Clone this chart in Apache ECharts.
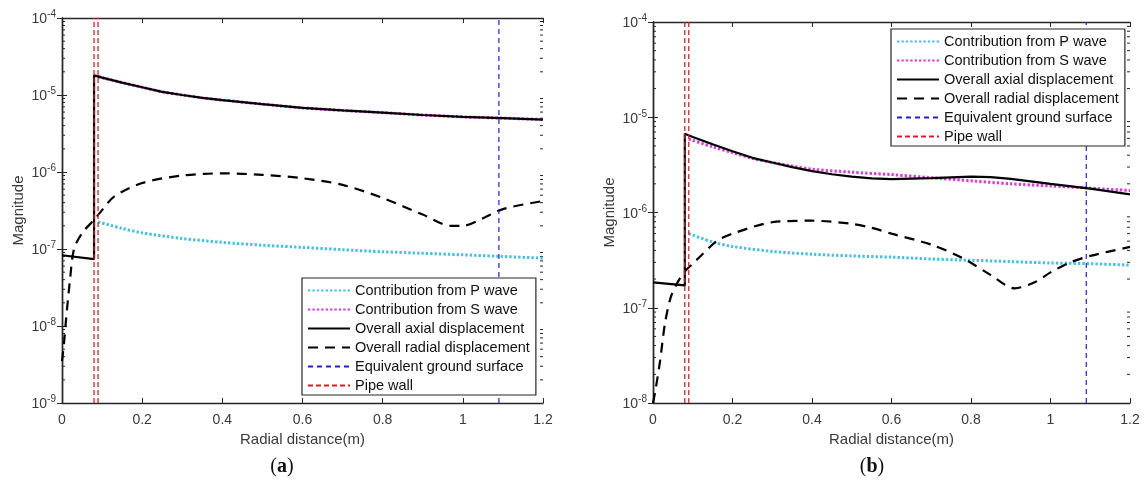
<!DOCTYPE html>
<html><head><meta charset="utf-8">
<script src="https://cdn.jsdelivr.net/npm/echarts@6/dist/echarts.min.js"></script>
<style>html,body{margin:0;padding:0;background:#fff}#c{width:1144px;height:481px}</style>
</head><body><div id="c"></div>
<script>
// ---------- data: panel (a) ----------
const aPX = [0.09, 0.15, 0.2, 0.3, 0.4, 0.5, 0.6, 0.7, 0.8, 0.9, 1.0, 1.1, 1.2];
const aPY = [2.25e-7, 1.85e-7, 1.62e-7, 1.37e-7, 1.22e-7, 1.12e-7, 1.05e-7, 9.8e-8, 9.2e-8, 8.8e-8, 8.4e-8, 8.0e-8, 7.6e-8];
const aSX = [0.09, 0.1, 0.15, 0.2, 0.25, 0.3, 0.35, 0.4, 0.5, 0.6, 0.7, 0.8, 0.9, 1.0, 1.1, 1.2];
const aSY = [1.74e-5, 1.68e-5, 1.45e-5, 1.26e-5, 1.1e-5, 1.0e-5, 9.2e-6, 8.6e-6, 7.6e-6, 6.8e-6, 6.3e-6, 5.9e-6, 5.5e-6, 5.2e-6, 5.0e-6, 4.8e-6];
const aAxX = [0, 0.08, 0.08, 0.1, 0.15, 0.2, 0.25, 0.3, 0.35, 0.4, 0.5, 0.6, 0.7, 0.8, 0.9, 1.0, 1.1, 1.2];
const aAxY = [8.3e-8, 7.4e-8, 1.8e-5, 1.68e-5, 1.45e-5, 1.26e-5, 1.1e-5, 1.0e-5, 9.2e-6, 8.6e-6, 7.6e-6, 6.8e-6, 6.3e-6, 5.9e-6, 5.5e-6, 5.2e-6, 5.0e-6, 4.8e-6];
const aRX = [0, 0.005, 0.01, 0.02, 0.03, 0.05, 0.08, 0.1, 0.13, 0.2, 0.3, 0.4, 0.5, 0.6, 0.7, 0.8, 0.9, 0.97, 1.0, 1.05, 1.1, 1.2];
const aRY = [3.5e-9, 6e-9, 1.2e-8, 4e-8, 1e-7, 1.6e-7, 2.4e-7, 3.2e-7, 4.8e-7, 7.2e-7, 9.0e-7, 9.6e-7, 9.2e-7, 8.3e-7, 6.8e-7, 4.6e-7, 2.8e-7, 2.0e-7, 2.0e-7, 2.5e-7, 3.3e-7, 4.2e-7];
// ---------- data: panel (b) ----------
const bPX = [0.09, 0.15, 0.2, 0.3, 0.4, 0.5, 0.6, 0.7, 0.8, 0.9, 1.0, 1.1, 1.2];
const bPY = [6.0e-7, 4.9e-7, 4.4e-7, 3.9e-7, 3.65e-7, 3.5e-7, 3.4e-7, 3.25e-7, 3.15e-7, 3.05e-7, 2.95e-7, 2.9e-7, 2.8e-7];
const bSX = [0.09, 0.15, 0.2, 0.25, 0.3, 0.4, 0.5, 0.6, 0.7, 0.8, 0.9, 1.0, 1.1, 1.2];
const bSY = [5.9e-6, 4.9e-6, 4.25e-6, 3.7e-6, 3.35e-6, 2.85e-6, 2.65e-6, 2.5e-6, 2.32e-6, 2.15e-6, 2.0e-6, 1.9e-6, 1.8e-6, 1.7e-6];
const bAxX = [0, 0.08, 0.08, 0.1, 0.15, 0.2, 0.25, 0.3, 0.35, 0.4, 0.45, 0.5, 0.55, 0.6, 0.7, 0.8, 0.85, 0.9, 1.0, 1.1, 1.2];
const bAxY = [1.85e-7, 1.72e-7, 6.7e-6, 6.2e-6, 5.2e-6, 4.4e-6, 3.75e-6, 3.35e-6, 3.0e-6, 2.72e-6, 2.52e-6, 2.38e-6, 2.28e-6, 2.24e-6, 2.3e-6, 2.38e-6, 2.35e-6, 2.25e-6, 2.0e-6, 1.78e-6, 1.55e-6];
const bRX = [0, 0.006, 0.018, 0.03, 0.045, 0.065, 0.08, 0.1, 0.12, 0.16, 0.2, 0.3, 0.4, 0.5, 0.55, 0.6, 0.7, 0.78, 0.85, 0.91, 0.96, 1.0, 1.05, 1.1, 1.2];
const bRY = [1.0e-8, 1.35e-8, 2.8e-8, 6.8e-8, 1.3e-7, 1.95e-7, 2.4e-7, 2.9e-7, 3.5e-7, 5.0e-7, 6.0e-7, 7.9e-7, 8.2e-7, 7.6e-7, 6.9e-7, 6.0e-7, 4.6e-7, 3.3e-7, 2.2e-7, 1.6e-7, 1.85e-7, 2.35e-7, 3.0e-7, 3.5e-7, 4.35e-7];
// vertical reference lines
const pipeWallX = [0.08, 0.09];
const groundX = 1.09;
// axes
const xMin = 0, xMax = 1.2, xStep = 0.2;
const aYMin = 1e-9, aYMax = 1e-4;
const bYMin = 1e-8, bYMax = 1e-4;
const names = ['Contribution from P wave', 'Contribution from S wave', 'Overall axial displacement',
  'Overall radial displacement', 'Equivalent ground surface', 'Pipe wall'];
const xTitle = 'Radial distance(m)';
const yTitle = 'Magnitude';

const FONT = 'Liberation Sans, Arial, sans-serif';
const AX = '#262626';
const TXT = '#3a3a3a';
const C_P = '#4cbfe0', C_S = '#d63fd6', C_BLUE = '#2222cc', C_RED = '#d22228';

const zip = (xs, ys) => xs.map((x, i) => [x, ys[i]]);

function lineSeries(g, name, data, color, width, type, smooth) {
  return { type: 'line', name, xAxisIndex: 2 * g, yAxisIndex: 2 * g, data, symbol: 'none', showSymbol: false,
    smooth: smooth || false, lineStyle: { color, width, type, cap: 'butt' }, itemStyle: { color },
    silent: true, animation: false };
}
function minorTicks(g, lo, hi) {
  const d = [];
  for (let e = lo; e < hi; e++) for (let k = 2; k <= 9; k++) d.push([xMin, k * Math.pow(10, e)]);
  return { type: 'custom', xAxisIndex: 2 * g, yAxisIndex: 2 * g, data: d, silent: true, clip: false, animation: false,
    renderItem: (p, api) => {
      const v = api.value(1);
      const a = api.coord([xMin, v]), b = api.coord([xMax, v]);
      return { type: 'group', children: [
        { type: 'line', shape: { x1: a[0], y1: a[1], x2: a[0] + 3, y2: a[1] }, style: { stroke: AX, lineWidth: 1 } },
        { type: 'line', shape: { x1: b[0], y1: b[1], x2: b[0] - 3, y2: b[1] }, style: { stroke: AX, lineWidth: 1 } }
      ] };
    } };
}
function panelSeries(g, P, S, Ax, R, yMin, yMax) {
  const s = [];
  s.push(lineSeries(g, names[0], P, C_P, 3, [2.4, 2], 0.3));
  s.push(lineSeries(g, names[1], S, C_S, 3, [2.4, 2], 0.3));
  s.push(lineSeries(g, names[2], Ax, '#000', 2.2, 'solid', false));
  s.push(lineSeries(g, names[3], R, '#000', 2.2, [10, 7], 0.3));
  s.push(lineSeries(g, names[4], [[groundX, yMin], [groundX, yMax]], C_BLUE, 1.2, [5, 4], false));
  pipeWallX.forEach(x => s.push(lineSeries(g, names[5], [[x, yMin], [x, yMax]], C_RED, 1.3, [5, 3], false)));
  s.push(minorTicks(g, Math.round(Math.log10(yMin)), Math.round(Math.log10(yMax))));
  return s;
}
const axLine = { show: true, lineStyle: { color: AX, width: 1.4 } };
function xAxes(g) {
  return [
    { type: 'value', gridIndex: g, min: xMin, max: xMax, interval: xStep, position: 'bottom',
      axisLine: axLine, splitLine: { show: false },
      axisTick: { show: true, inside: true, length: 5, lineStyle: { color: AX, width: 1 } },
      axisLabel: { color: TXT, fontSize: 14, fontFamily: FONT, margin: 10, formatter: v => String(+v.toFixed(1)) },
      name: xTitle, nameLocation: 'middle', nameGap: 26,
      nameTextStyle: { color: TXT, fontSize: 15, fontFamily: FONT } },
    { type: 'value', gridIndex: g, min: xMin, max: xMax, interval: xStep, position: 'top',
      axisLine: axLine, splitLine: { show: false }, axisLabel: { show: false },
      axisTick: { show: true, inside: true, length: 5, lineStyle: { color: AX, width: 1 } } }
  ];
}
function yAxes(g, yMin, yMax) {
  const n = Math.round(Math.log10(yMax) - Math.log10(yMin));
  return [
    { type: 'log', logBase: 10, gridIndex: g, min: yMin, max: yMax, splitNumber: n, position: 'left',
      axisLine: axLine, splitLine: { show: false },
      axisTick: { show: true, inside: true, length: 5, lineStyle: { color: AX, width: 1 } },
      axisLabel: { color: TXT, fontFamily: FONT, margin: 6,
        formatter: v => '{b|10}{s|' + Math.round(Math.log10(v)) + '}',
        rich: { b: { fontSize: 14, fontFamily: FONT, color: TXT, lineHeight: 17, verticalAlign: 'bottom' },
                s: { fontSize: 10, fontFamily: FONT, color: TXT, lineHeight: 17, verticalAlign: 'top' } } },
      name: yTitle, nameLocation: 'middle', nameGap: 36, nameRotate: 90,
      nameTextStyle: { color: TXT, fontSize: 15, fontFamily: FONT } },
    { type: 'log', logBase: 10, gridIndex: g, min: yMin, max: yMax, splitNumber: n, position: 'right',
      axisLine: axLine, splitLine: { show: false }, axisLabel: { show: false },
      axisTick: { show: true, inside: true, length: 5, lineStyle: { color: AX, width: 1 } } }
  ];
}
function legend(left, top, pad) {
  return { left, top, orient: 'vertical', data: names, itemWidth: 42, itemHeight: 15, itemGap: 4,
    padding: pad, backgroundColor: '#fff', borderColor: AX, borderWidth: 1.2,
    itemStyle: { opacity: 0 }, selectedMode: false,
    textStyle: { fontSize: 14.5, fontFamily: FONT, color: '#111' } };
}

const chart = echarts.init(document.getElementById('c'), null, { renderer: 'canvas' });
chart.setOption({
  animation: false,
  backgroundColor: '#fff',
  grid: [
    { left: 62, top: 18, width: 481, height: 385 },
    { left: 653, top: 22, width: 477, height: 381 }
  ],
  xAxis: [...xAxes(0), ...xAxes(1)],
  yAxis: [...yAxes(0, aYMin, aYMax), ...yAxes(1, bYMin, bYMax)],
  legend: [legend(302, 278, [5, 6, 2, 5]), legend(891, 29, [5, 6, 2, 5])],
  series: [
    ...panelSeries(0, zip(aPX, aPY), zip(aSX, aSY), zip(aAxX, aAxY), zip(aRX, aRY), aYMin, aYMax),
    ...panelSeries(1, zip(bPX, bPY), zip(bSX, bSY), zip(bAxX, bAxY), zip(bRX, bRY), bYMin, bYMax)
  ],
  graphic: [
    { type: 'text', x: 282, y: 467, style: { text: '{p|(}{b|a}{p|)}', textAlign: 'center', textVerticalAlign: 'middle',
      rich: { p: { font: '20px Liberation Serif', fill: '#111' }, b: { font: 'bold 20px Liberation Serif', fill: '#111' } } } },
    { type: 'text', x: 872, y: 467, style: { text: '{p|(}{b|b}{p|)}', textAlign: 'center', textVerticalAlign: 'middle',
      rich: { p: { font: '20px Liberation Serif', fill: '#111' }, b: { font: 'bold 20px Liberation Serif', fill: '#111' } } } }
  ]
});
</script></body></html>
